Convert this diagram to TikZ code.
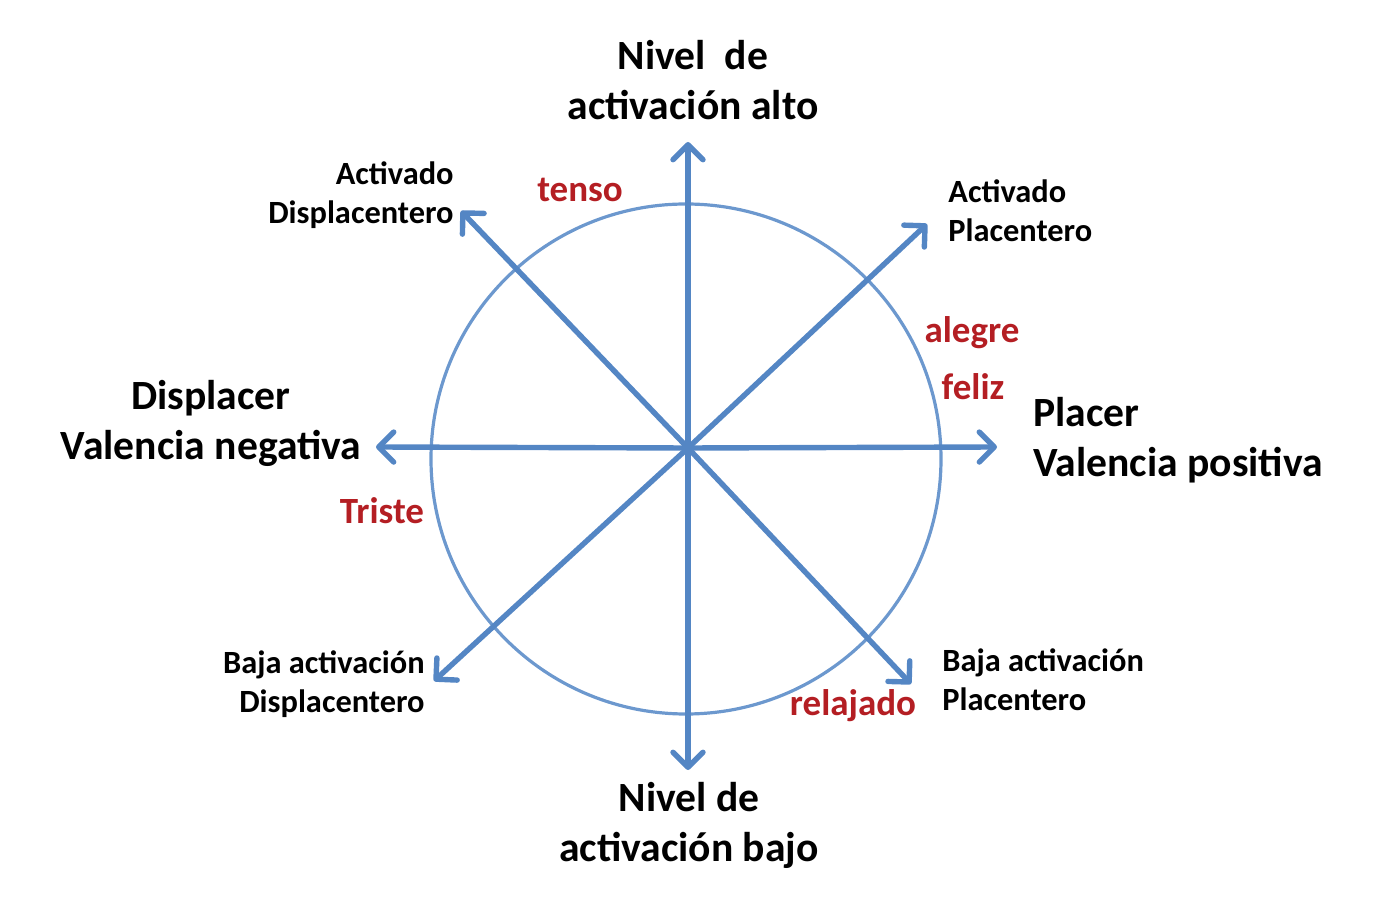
\documentclass[tikz,border=0pt]{standalone}
\usepackage{fontspec}
\setmainfont{Carlito}
\usetikzlibrary{arrows.meta}
\definecolor{axisblue}{RGB}{84,134,196}
\definecolor{circblue}{RGB}{108,152,206}
\definecolor{emored}{RGB}{180,30,35}
\tikzset{
  axis/.style={draw=axisblue, line width=2.7pt, line cap=round,
    -{Straight Barb[length=7.5pt,width=15pt,line width=2.7pt,round]}},
  bigtxt/.style={font=\bfseries\fontsize{20.8}{25}\selectfont, align=center, inner sep=0pt},
  midtxt/.style={font=\bfseries\fontsize{16.2}{19.5}\selectfont, inner sep=0pt},
  redtxt/.style={font=\bfseries\fontsize{18.5}{22}\selectfont, text=emored, inner sep=0pt},
}
\begin{document}
\begin{tikzpicture}[x=0.5pt,y=-0.5pt]
\useasboundingbox (0,0) rectangle (1398,908);
\coordinate (c) at (688,448);
\node[draw=circblue, line width=1.6pt, circle, minimum size=255pt, inner sep=0pt] (circ) at (686,459) {};
\coordinate (n) at (688,142);
\coordinate (s) at (688,770);
\coordinate (w) at (376,447);
\coordinate (e) at (997,447);
\coordinate (nw) at (461,211);
\coordinate (ne) at (927,224);
\coordinate (sw) at (434,681);
\coordinate (se) at (911,684);
\foreach \t in {n,s,w,e,nw,ne,sw,se} \draw[axis] (c) -- (\t);

\node[bigtxt] (top) at (693,80) {Nivel\ \ de\\activación alto};
\node[bigtxt] (bot) at (689,825) {Nivel de\\activación bajo};
\node[bigtxt] (left) at (211,423) {Displacer\\Valencia negativa};
\node[bigtxt, align=left, anchor=west] (right) at (1033,440) {Placer\\Valencia positiva};

\node[midtxt, align=right, anchor=east] (lnw) at (454,195) {Activado\\Displacentero};
\node[midtxt, align=left, anchor=west] (lne) at (948,211) {Activado\\Placentero};
\node[midtxt, align=right, anchor=east] (lsw) at (425,684) {Baja activación\\Displacentero};
\node[midtxt, align=left, anchor=west] (lse) at (942,680) {Baja activación\\Placentero};

\node[redtxt] (tenso) at (580,190) {tenso};
\node[redtxt] (alegre) at (972,333) {alegre};
\node[redtxt] (feliz) at (973,387) {feliz};
\node[redtxt] (triste) at (382,511) {Triste};
\node[redtxt] (relajado) at (853,706) {relajado};
\end{tikzpicture}
\end{document}
